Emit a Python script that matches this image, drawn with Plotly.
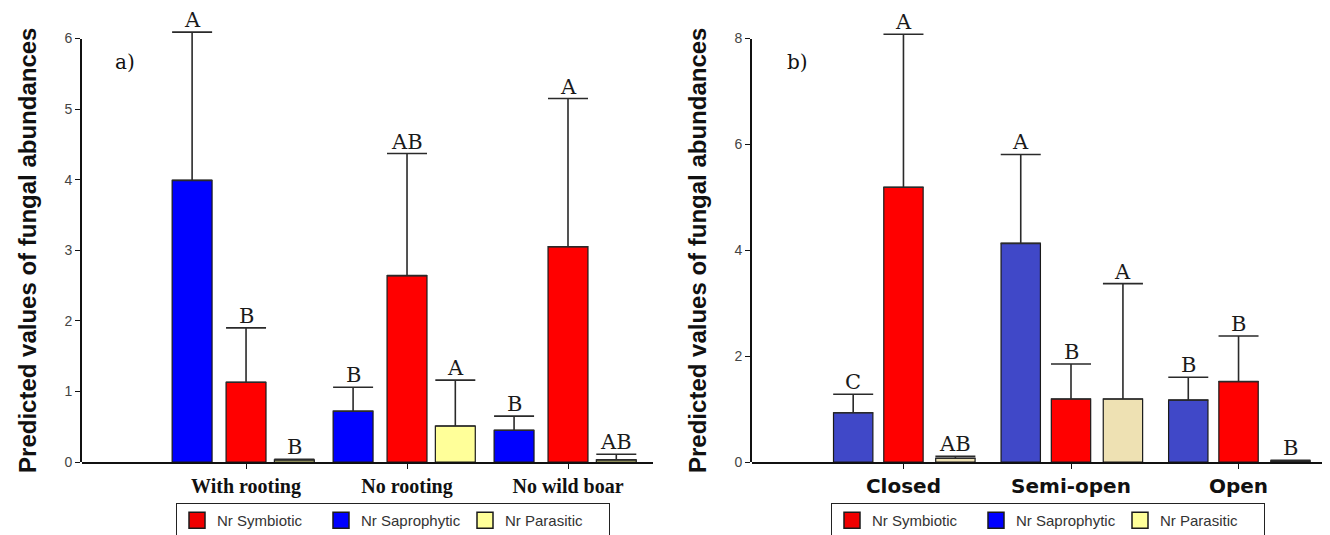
import plotly.graph_objects as go

# ---------------- data ----------------
left_groups = ["With rooting", "No rooting", "No wild boar"]
left_saprophytic = [3.99, 0.72, 0.45]
left_saprophytic_err = [2.10, 0.34, 0.20]
left_symbiotic = [1.13, 2.64, 3.05]
left_symbiotic_err = [0.77, 1.73, 2.10]
left_parasitic = [0.03, 0.51, 0.03]
left_parasitic_err = [0.01, 0.65, 0.08]
left_letters_sap = ["A", "B", "B"]
left_letters_sym = ["B", "AB", "A"]
left_letters_par = ["B", "A", "AB"]
left_yticks = [0, 1, 2, 3, 4, 5, 6]

right_groups = ["Closed", "Semi-open", "Open"]
right_saprophytic = [0.93, 4.13, 1.17]
right_saprophytic_err = [0.35, 1.68, 0.43]
right_symbiotic = [5.19, 1.19, 1.52]
right_symbiotic_err = [2.89, 0.66, 0.86]
right_parasitic = [0.07, 1.19, 0.02]
right_parasitic_err = [0.04, 2.18, 0.01]
right_letters_sap = ["C", "A", "B"]
right_letters_sym = ["A", "B", "B"]
right_letters_par = ["AB", "A", "B"]
right_yticks = [0, 2, 4, 6, 8]

series_names = ["Nr Symbiotic", "Nr Saprophytic", "Nr Parasitic"]
title_text = "Predicted values of fungal abundances"

# ---------------- style ----------------
W, H = 1330, 535
BODY = 8  # default page margin of the browser


def px(x):
    return (x - BODY) / W


def py(y):
    return 1 - (y - BODY) / H


PX_ZERO, PX_TOP, PX_EXT = 462, 38.5, 10
LETTER_FONT = dict(family="DejaVu Serif", size=21, color="#1a1a1a")
ERR = dict(type="data", symmetric=False, color="#2a2a2a", thickness=1.6, width=20)

left_colors = {"sap": "#0000FF", "sym": "#FF0000", "par": "#FFFF99"}
right_colors = {"sap": "#4048C8", "sym": "#FF0000", "par": "#EEE1B3"}
legend_colors = {"Nr Symbiotic": "#F00000", "Nr Saprophytic": "#0000FF", "Nr Parasitic": "#FFFF99"}

left_place = {"sap": (-0.335, 0.248), "sym": (0.0, 0.248), "par": (0.30, 0.248)}
right_place = {"sap": (-0.30, 0.235), "sym": (0.0, 0.235), "par": (0.31, 0.235)}

fig = go.Figure()
annotations = []


def add_panel(groups, data, place, colors, xref, yref):
    for key, (vals, errs, letters) in data.items():
        shift, width = place[key]
        fig.add_trace(go.Bar(
            x=groups, y=vals, width=width, offset=shift - width / 2,
            marker=dict(color=colors[key], line=dict(color="#1a1a1a", width=1.2)),
            error_y=dict(ERR, array=errs, arrayminus=[0] * len(errs)),
            xaxis=xref, yaxis=yref, showlegend=False, cliponaxis=False,
            hoverinfo="skip",
        ))
        for i, (v, e, t) in enumerate(zip(vals, errs, letters)):
            annotations.append(dict(
                x=i + shift, y=v + e, xref=xref, yref=yref, text=t,
                showarrow=False, yanchor="bottom", yshift=-2, font=LETTER_FONT,
            ))


add_panel(left_groups, {
    "sap": (left_saprophytic, left_saprophytic_err, left_letters_sap),
    "sym": (left_symbiotic, left_symbiotic_err, left_letters_sym),
    "par": (left_parasitic, left_parasitic_err, left_letters_par),
}, left_place, left_colors, "x", "y")

add_panel(right_groups, {
    "sap": (right_saprophytic, right_saprophytic_err, right_letters_sap),
    "sym": (right_symbiotic, right_symbiotic_err, right_letters_sym),
    "par": (right_parasitic, right_parasitic_err, right_letters_par),
}, right_place, right_colors, "x2", "y2")

# legend entries (one legend per panel)
for lg, xa, ya in [("legend", "x", "y"), ("legend2", "x2", "y2")]:
    for name in series_names:
        fig.add_trace(go.Scatter(
            x=[None], y=[None], mode="markers", name=name, legend=lg,
            marker=dict(symbol="square", size=22, color=legend_colors[name],
                        line=dict(color="#1a1a1a", width=1.5)),
            xaxis=xa, yaxis=ya,
        ))

# empty traces so the visible value axes exist
for xa, ya in [("x3", "y3"), ("x4", "y4")]:
    fig.add_trace(go.Scatter(x=[None], y=[None], xaxis=xa, yaxis=ya, showlegend=False,
                             hoverinfo="skip"))

ybot, ytop, yext = py(PX_ZERO), py(PX_TOP), py(PX_EXT)
left_max, right_max = left_yticks[-1], right_yticks[-1]
left_ext = left_max * (PX_ZERO - PX_EXT) / (PX_ZERO - PX_TOP)
right_ext = right_max * (PX_ZERO - PX_EXT) / (PX_ZERO - PX_TOP)

axis_common = dict(showgrid=False, zeroline=False, showline=True, linecolor="#111",
                   linewidth=1.6, ticks="outside", ticklen=5, tickcolor="#111", tickwidth=1.4)
ytitle = dict(text="<b>" + title_text + "</b>", standoff=21,
              font=dict(family="Liberation Sans", size=24, color="#111"))
ytickfont = dict(family="Liberation Sans", size=14, color="#444")
LX = [px(82), px(653)]
RX = [px(752), px(1327)]

legend_common = dict(orientation="h", xanchor="left", yanchor="top",
                     bordercolor="#222", borderwidth=1, bgcolor="white",
                     font=dict(family="Liberation Sans", size=15, color="#333"),
                     entrywidth=99, itemclick=False)

fig.update_layout(
    width=W, height=H, margin=dict(l=0, r=0, t=0, b=0, autoexpand=False),
    paper_bgcolor="white", plot_bgcolor="rgba(0,0,0,0)", barmode="overlay",
    xaxis=dict(axis_common, domain=LX, anchor="y", type="category",
               range=[-1.019, 2.528],
               tickfont=dict(family="Liberation Serif", size=20, color="#111", weight="bold")),
    yaxis=dict(domain=[ybot, yext], anchor="x", range=[0, left_ext], visible=False,
               fixedrange=True),
    xaxis2=dict(axis_common, domain=RX, anchor="y2", type="category",
                range=[-0.904, 2.528],
                tickfont=dict(family="DejaVu Sans", size=20, color="#111", weight="bold")),
    yaxis2=dict(domain=[ybot, yext], anchor="x2", range=[0, right_ext], visible=False,
                fixedrange=True),
    xaxis3=dict(domain=LX, anchor="y3", visible=False),
    yaxis3=dict(axis_common, domain=[ybot, ytop], anchor="x3", range=[0, left_max],
                tickvals=left_yticks, tickfont=ytickfont, title=ytitle),
    xaxis4=dict(domain=RX, anchor="y4", visible=False),
    yaxis4=dict(axis_common, domain=[ybot, ytop], anchor="x4", range=[0, right_max],
                tickvals=right_yticks, tickfont=ytickfont, title=ytitle),
    legend=dict(legend_common, x=px(176), y=py(503)),
    legend2=dict(legend_common, x=px(831), y=py(503)),
    annotations=annotations + [
        dict(x=px(113), y=py(48), xref="paper", yref="paper", text="a)", showarrow=False,
             xanchor="left", font=dict(family="DejaVu Serif", size=20, color="#111")),
        dict(x=px(785), y=py(48), xref="paper", yref="paper", text="b)", showarrow=False,
             xanchor="left", font=dict(family="DejaVu Serif", size=20, color="#111")),
    ],
)

fig.write_html("out.html")
